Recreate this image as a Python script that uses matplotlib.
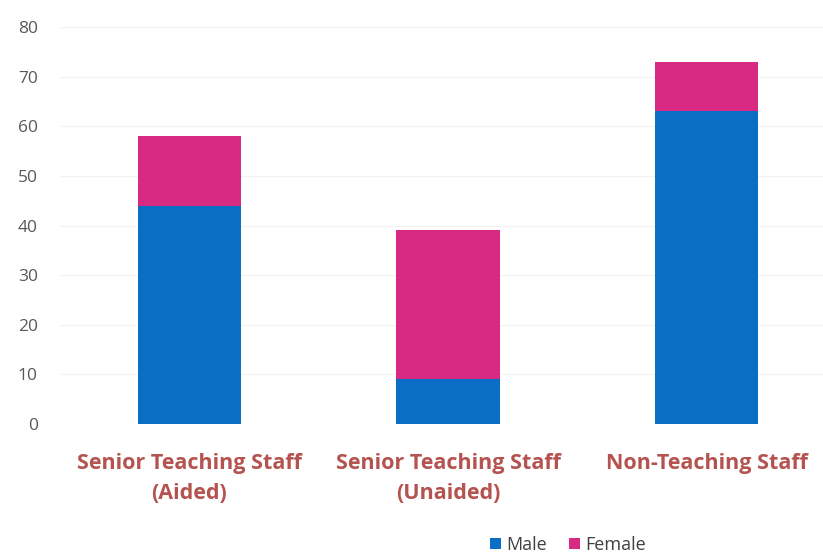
import matplotlib
matplotlib.use("Agg")
import matplotlib.pyplot as plt
import numpy as np

# staff counts by category
categories = ["Senior Teaching Staff\n(Aided)", "Senior Teaching Staff\n(Unaided)", "Non-Teaching Staff"]
male = [44, 9, 63]
female = [14, 30, 10]
yticks = [0, 10, 20, 30, 40, 50, 60, 70, 80]

BLUE = "#0A6FC4"
PINK = "#D92A83"
LABEL_RED = "#B4534F"

fig = plt.figure(figsize=(8.23, 5.56), dpi=100)
ax = fig.add_axes([60 / 823, 1 - 424 / 556, 1 - 60 / 823, (424 - 27) / 556])

x = np.arange(len(categories))
ax.bar(x, male, width=0.4, color=BLUE, label="Male")
ax.bar(x, female, width=0.4, bottom=male, color=PINK, label="Female")

ax.set_xlim(-0.5, 2.45)
ax.set_ylim(0, 80)
ax.set_yticks(yticks)
ax.set_xticks(x)
ax.set_xticklabels(categories, fontfamily="Open Sans", fontweight="bold",
                   fontsize=15.5, color=LABEL_RED, linespacing=1.55)
ax.tick_params(axis="x", length=0, pad=21)
ax.tick_params(axis="y", length=0, pad=16, labelsize=12.5, labelcolor="#595959")
for lbl in ax.get_yticklabels():
    lbl.set_fontfamily("Open Sans")

for s in ax.spines.values():
    s.set_visible(False)
ax.grid(axis="y", color="#f2f2f2", linewidth=0.8)
ax.set_axisbelow(True)

fig.legend(loc="center", bbox_to_anchor=(568 / 823, 1 - 545 / 556), ncol=2,
           frameon=False, handlelength=0.6, handleheight=0.6, handletextpad=0.3,
           columnspacing=1.2, prop={"family": "Open Sans", "size": 13})
for t in fig.legends[0].get_texts():
    t.set_color("#404040")

fig.savefig("out.png", dpi=100)
